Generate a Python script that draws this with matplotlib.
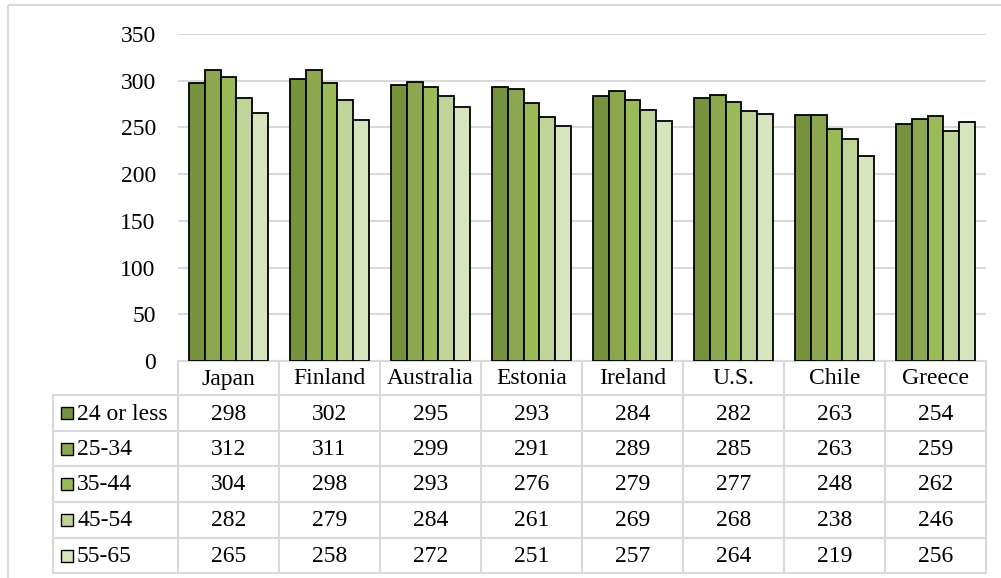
import matplotlib
matplotlib.use("Agg")
import matplotlib.pyplot as plt
from matplotlib.patches import Rectangle

plt.rcParams['font.family'] = ['Liberation Serif', 'DejaVu Serif']

countries = ["Japan", "Finland", "Australia", "Estonia", "Ireland", "U.S.", "Chile", "Greece"]
age_groups = ["24 or less", "25-34", "35-44", "45-54", "55-65"]
v_24_or_less = [298, 302, 295, 293, 284, 282, 263, 254]
v_25_34 = [312, 311, 299, 291, 289, 285, 263, 259]
v_35_44 = [304, 298, 293, 276, 279, 277, 248, 262]
v_45_54 = [282, 279, 284, 261, 269, 268, 238, 246]
v_55_65 = [265, 258, 272, 251, 257, 264, 219, 256]
series = [v_24_or_less, v_25_34, v_35_44, v_45_54, v_55_65]
colors = ["#76923C", "#8DA650", "#9BBB59", "#C0D49A", "#D7E4BD"]
yticks = [0, 50, 100, 150, 200, 250, 300, 350]

W, H = 1001, 578
fig = plt.figure(figsize=(W / 100, H / 100), dpi=100)

grid_c = "#D9D9D9"
fs = 17

# pixel-space overlay for the frame and the data table
ov = fig.add_axes([0, 0, 1, 1])
ov.set_xlim(0, W)
ov.set_ylim(H, 0)
ov.axis("off")

ov.add_patch(Rectangle((8, 5), W + 10, H + 10, fill=False, ec=grid_c, lw=1.5))

# plot area
x0, x1 = 178, 986
y_top, y_zero = 34, 361
ax = fig.add_axes([x0 / W, (H - y_zero) / H, (x1 - x0) / W, (y_zero - y_top) / H])
ax.set_xlim(-0.5, len(countries) - 0.5)
ax.set_ylim(0, 350)
ax.set_yticks(yticks)
ax.set_xticks([])
for s in ax.spines.values():
    s.set_visible(False)
ax.yaxis.grid(True, color=grid_c, lw=1.5)
ax.set_axisbelow(True)
ax.tick_params(axis="y", length=0, pad=16, labelsize=fs)
ax.patch.set_alpha(0)

bw = 0.157
for j, (vals, col) in enumerate(zip(series, colors)):
    xs = [i + (j - 2) * bw for i in range(len(countries))]
    ax.bar(xs, vals, width=bw, color=col, edgecolor="black", linewidth=1.3, zorder=3)

# data table
cw = (x1 - x0) / len(countries)
label_x0 = 53
row_edges = [y_zero, 395, 431, 466, 502, 538, 573]

ov.plot([x0, x1], [y_zero, y_zero], color=grid_c, lw=1.5)
for y in row_edges[1:]:
    ov.plot([label_x0, x1], [y, y], color=grid_c, lw=1.5)
ov.plot([label_x0, label_x0], [row_edges[1], row_edges[-1]], color=grid_c, lw=1.5)
for i in range(len(countries) + 1):
    x = x0 + i * cw
    ov.plot([x, x], [y_zero, row_edges[-1]], color=grid_c, lw=1.5)

hy = (row_edges[0] + row_edges[1]) / 2
for i, c in enumerate(countries):
    ov.text(x0 + (i + 0.5) * cw, hy + 1, c, ha="center", va="center", fontsize=fs)

for r, (name, vals, col) in enumerate(zip(age_groups, series, colors)):
    yc = (row_edges[r + 1] + row_edges[r + 2]) / 2
    ov.add_patch(Rectangle((61, yc - 6), 12, 12, facecolor=col, edgecolor="black", lw=1.0))
    ov.text(77, yc + 1, name, ha="left", va="center", fontsize=fs)
    for i, v in enumerate(vals):
        ov.text(x0 + (i + 0.5) * cw, yc + 1, str(v), ha="center", va="center", fontsize=fs)

fig.savefig("out.png", dpi=100)
